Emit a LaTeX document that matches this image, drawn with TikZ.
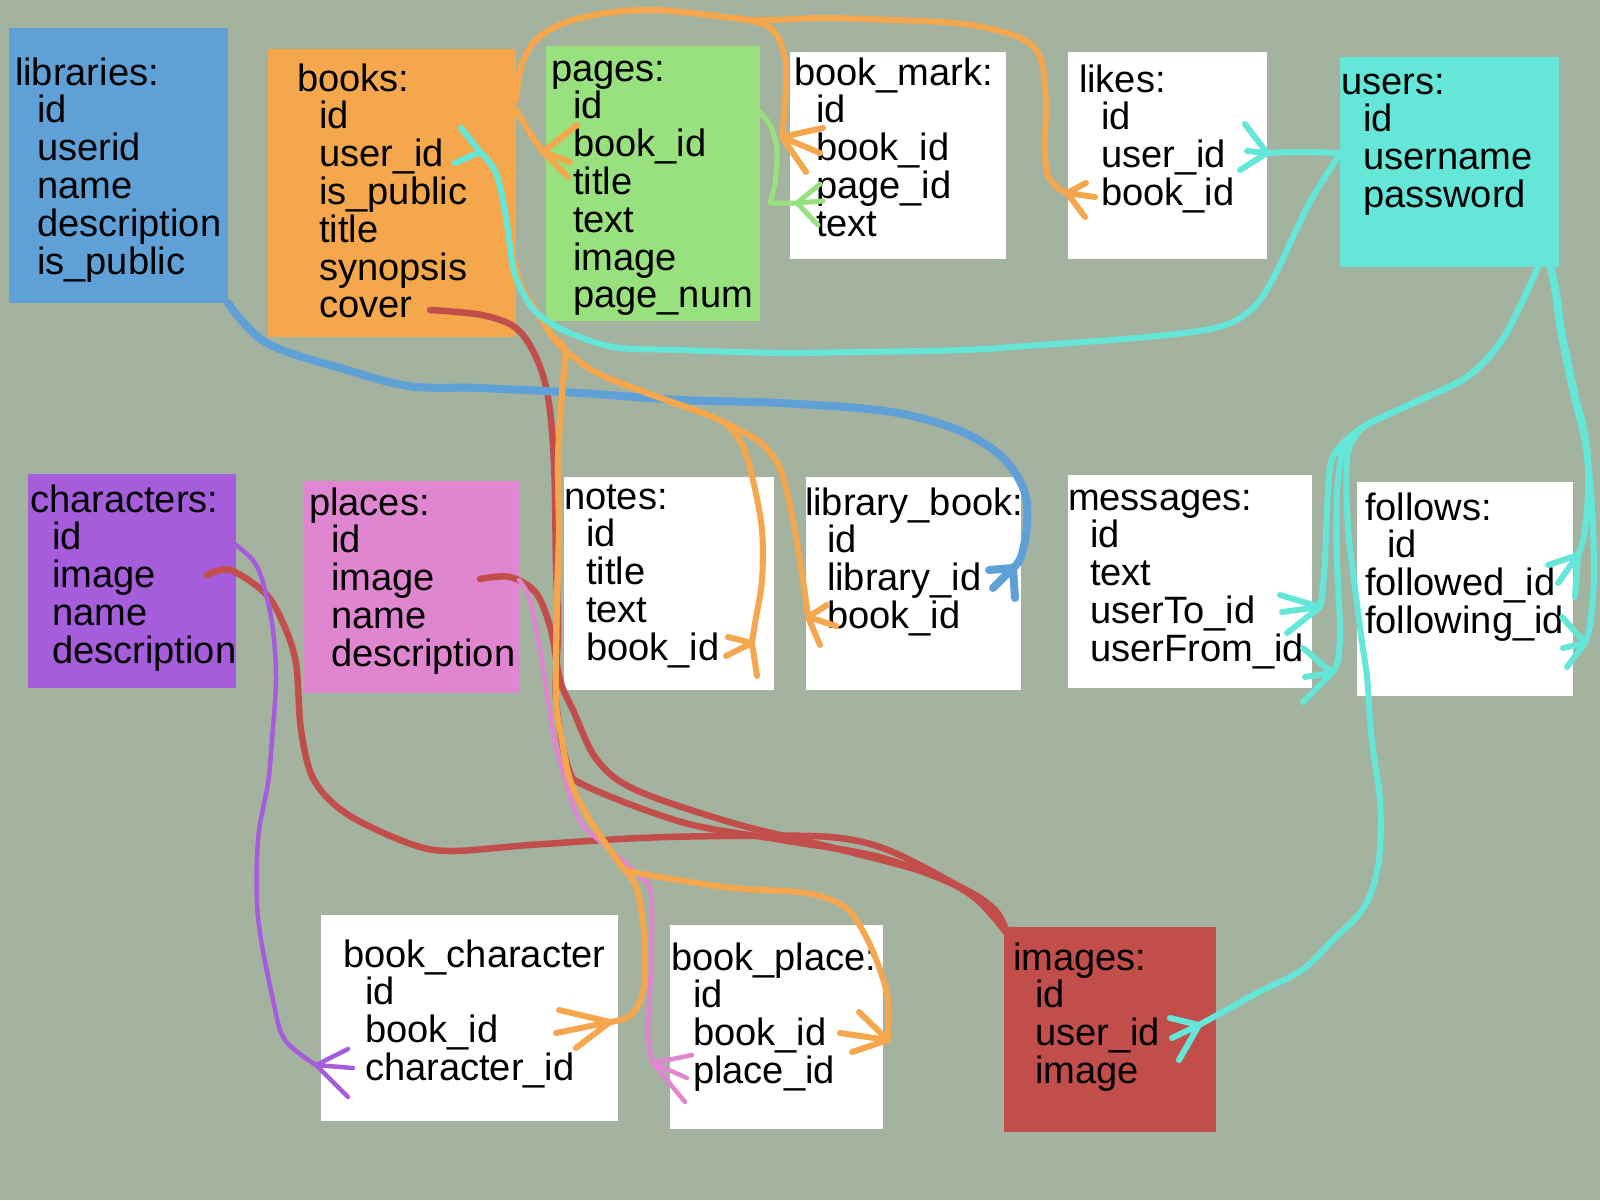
\documentclass[tikz,border=0pt]{standalone}
\usepackage{fontspec}
\setmainfont{Liberation Sans}
\definecolor{bgc}{RGB}{164,179,160}
\definecolor{cblue}{RGB}{95,161,214}
\definecolor{corange}{RGB}{244,167,76}
\definecolor{cgreen}{RGB}{153,224,126}
\definecolor{ccyan}{RGB}{100,231,216}
\definecolor{cpurple}{RGB}{165,93,220}
\definecolor{cpink}{RGB}{224,134,209}
\definecolor{cred}{RGB}{193,78,75}
\newcommand\fld{\hspace*{22pt}}
\newcommand\tst{\rule{0pt}{30pt}}
\tikzset{
  tbl/.style={rectangle, inner sep=0pt, outer sep=0pt, draw=none},
  txt/.style={anchor=north west, inner sep=0pt, outer sep=0pt, align=left,
    font=\fontsize{38.1}{37.8}\selectfont, text=black},
  con/.style={line width=6pt, line cap=round, line join=round},
  sm/.style={smooth, tension=0.55},
}
\begin{document}
\begin{tikzpicture}[x=1pt,y=-1pt]
\fill[bgc] (0,0) rectangle (1600,1200);
\useasboundingbox (0,0) rectangle (1600,1200);

% ---------- boxes ----------
\node[tbl, fill=cblue,   minimum width=219, minimum height=275] (libraries) at (118.5,165.5) {};
\node[tbl, fill=corange, minimum width=248, minimum height=288] (books) at (392,193) {};
\node[tbl, fill=cgreen,  minimum width=214, minimum height=275] (pages) at (653,183.5) {};
\node[tbl, fill=white,   minimum width=216, minimum height=207] (bookmark) at (898,155.5) {};
\node[tbl, fill=white,   minimum width=199, minimum height=207] (likes) at (1167.5,155.5) {};
\node[tbl, fill=ccyan,   minimum width=219, minimum height=210] (users) at (1449.5,162) {};
\node[tbl, fill=cpurple, minimum width=208, minimum height=214] (characters) at (132,581) {};
\node[tbl, fill=cpink,   minimum width=215, minimum height=212] (places) at (411.5,587) {};
\node[tbl, fill=white,   minimum width=210, minimum height=213] (notes) at (669,583.5) {};
\node[tbl, fill=white,   minimum width=215, minimum height=213] (librarybook) at (913.5,583.5) {};
\node[tbl, fill=white,   minimum width=244, minimum height=213] (messages) at (1190,581.5) {};
\node[tbl, fill=white,   minimum width=216, minimum height=214] (follows) at (1465,589) {};
\node[tbl, fill=white,   minimum width=297, minimum height=206] (bookchar) at (469.5,1018) {};
\node[tbl, fill=white,   minimum width=213, minimum height=204] (bookplace) at (776.5,1027) {};
\node[tbl, fill=cred,    minimum width=212, minimum height=205] (images) at (1110,1029.5) {};

% ---------- texts ----------
\node[txt] (tlibraries) at (15,55) {\tst libraries:\\\fld id\\\fld userid\\\fld name\\\fld description\\\fld is\_public};
\node[txt] (tbooks) at (297,61) {\tst books:\\\fld id\\\fld user\_id\\\fld is\_public\\\fld title\\\fld synopsis\\\fld cover};
\node[txt] (tpages) at (551,51) {\tst pages:\\\fld id\\\fld book\_id\\\fld title\\\fld text\\\fld image\\\fld page\_num};
\node[txt] (tbookmark) at (794,55) {\tst book\_mark:\\\fld id\\\fld book\_id\\\fld page\_id\\\fld text};
\node[txt] (tlikes) at (1079,62) {\tst likes:\\\fld id\\\fld user\_id\\\fld book\_id};
\node[txt] (tusers) at (1341,64) {\tst users:\\\fld id\\\fld username\\\fld password};
\node[txt] (tcharacters) at (30,482) {\tst characters:\\\fld id\\\fld image\\\fld name\\\fld description};
\node[txt] (tplaces) at (309,485) {\tst places:\\\fld id\\\fld image\\\fld name\\\fld description};
\node[txt] (tnotes) at (564,479) {\tst notes:\\\fld id\\\fld title\\\fld text\\\fld book\_id};
\node[txt] (tlibrarybook) at (805,485) {\tst library\_book:\\\fld id\\\fld library\_id\\\fld book\_id};
\node[txt] (tmessages) at (1068,480) {\tst messages:\\\fld id\\\fld text\\\fld userTo\_id\\\fld userFrom\_id};
\node[txt] (tfollows) at (1365,490) {\tst follows:\\\fld id\\followed\_id\\following\_id};
\node[txt] (tbookchar) at (343,937) {\tst book\_character\\\fld id\\\fld book\_id\\\fld character\_id};
\node[txt] (tbookplace) at (671,940) {\tst book\_place:\\\fld id\\\fld book\_id\\\fld place\_id};
\node[txt] (timages) at (1013,940) {\tst images:\\\fld id\\\fld user\_id\\\fld image};

% ---------- connector end points ----------
\coordinate (bkE1) at (516,100);
\coordinate (bkE2) at (515,108);
\coordinate (bkE3) at (514,262);
\coordinate (bkCover) at (430,310);
\coordinate (pgE) at (760,112);
\coordinate (usW) at (1340,153);
\coordinate (usS1) at (1538,267);
\coordinate (usS2) at (1550,267);
\coordinate (usS3) at (1552,267);
\coordinate (chE) at (236,545);
\coordinate (chImg) at (207,575);
\coordinate (plE) at (519,580);
\coordinate (plImg) at (480,579);
\coordinate (imNW) at (1008,935);
\coordinate (tPgBook) at (543,152);
\coordinate (tBmBook) at (782,137);
\coordinate (tBmPage) at (797,203);
\coordinate (tLkBook) at (1067,193);
\coordinate (tLkUser) at (1267,153);
\coordinate (tBkUser) at (480,152);
\coordinate (tLbLib) at (1013,568);
\coordinate (tLbBook) at (808,617);
\coordinate (tNtBook) at (752,643);
\coordinate (tMsTo) at (1320,607);
\coordinate (tMsFrom) at (1332,673);
\coordinate (tFwEd) at (1578,555);
\coordinate (tFwIng) at (1585,643);
\coordinate (tBcChar) at (316,1065);
\coordinate (tBcBook) at (610,1022);
\coordinate (tBpBook) at (888,1040);
\coordinate (tBpPlace) at (653,1063);
\coordinate (tImUser) at (1199,1025);

% ---------- red connectors (images) ----------
\begin{scope}[con, draw=cred, line width=6.5pt]
\draw plot[sm] coordinates {(bkCover) (482,315) (516,328) (536,357) (548,397) (554,463) (556,563) (558,630) (556,700) (568,767) (588,787) (685,823) (782,840) (879,857) (960,887) (995,910) (imNW)};
\draw plot[sm] coordinates {(plImg) (510,577) (536,593) (551,630) (560,680) (573,710) (597,760) (636,790) (733,823) (830,847) (927,873) (975,898) (imNW)};
\draw plot[sm] coordinates {(chImg) (230,570) (265,593) (283,623) (296,663) (301,730) (314,780) (347,814) (408,843) (450,851) (530,845) (640,838) (733,836) (830,837) (888,850) (960,887) (990,907) (imNW)};
\end{scope}

% ---------- purple / pink ----------
\draw[con, draw=cpurple, line width=4.5pt] plot[sm] coordinates {(chE) (255,563) (265,590) (273,630) (276,680) (272,740) (268,783) (258,840) (258,917) (273,1000) (285,1040) (tBcChar)}
  (tBcChar) -- (348,1049) (tBcChar) -- (353,1068) (tBcChar) -- (348,1097);
\draw[con, draw=cpink, line width=4.5pt] plot[sm] coordinates {(plE) (530,600) (540,650) (548,700) (556,747) (578,817) (602,843) (636,873) (651,893) (651,967) (648,1033) (tBpPlace)}
  (tBpPlace) -- (692,1055) (tBpPlace) -- (687,1078) (tBpPlace) -- (685,1102);

% ---------- blue ----------
\draw[con, draw=cblue, line width=8pt] plot[sm] coordinates {(libraries.south east) (241,320) (262,340) (290,353) (337,367) (408,386) (480,388) (580,393) (680,400) (780,403) (885,411) (953,428) (1000,455) (1024,490) (1027,525) (1021,557) (tLbLib)}
  (tLbLib) -- (989,570) (tLbLib) -- (993,588) (tLbLib) -- (1015,598);

% ---------- green ----------
\draw[con, draw=cgreen, line width=5pt] plot[sm] coordinates {(pgE) (771,127) (777,150) (775,183) (770,203)} -- (tBmPage)
  (tBmPage) -- (820,184) (tBmPage) -- (823,201) (tBmPage) -- (818,225);

% ---------- orange ----------
\begin{scope}[con, draw=corange]
\draw plot[sm] coordinates {(bkE2) (530,133) (tPgBook)}
  (tPgBook) -- (577,125) (tPgBook) -- (570,162) (tPgBook) -- (568,177);
\draw plot[sm] coordinates {(bkE1) (521,67) (536,40) (564,23) (607,13) (654,10) (700,14) (757,22) (776,34) (785,58) (786,85) (784,117) (tBmBook)}
  (tBmBook) -- (823,128) (tBmBook) -- (820,153) (tBmBook) -- (806,172);
\draw plot[sm] coordinates {(bkE1) (521,67) (536,40) (564,23) (607,13) (654,10) (700,14) (757,20) (821,18) (893,20) (964,24) (1018,37) (1040,57) (1046,100) (1045,140) (1047,173) (1058,188) (tLkBook)}
  (tLkBook) -- (1086,183) (tLkBook) -- (1095,197) (tLkBook) -- (1085,217);
\draw plot[sm] coordinates {(bkE3) (523,290) (540,317) (553,337) (565,350) (597,373) (647,393) (713,417) (730,428) (743,447) (753,480) (762,530) (762,580) (755,623) (tNtBook)}
  (tNtBook) -- (728,637) (tNtBook) -- (726,656) (tNtBook) -- (757,676);
\draw plot[sm] coordinates {(bkE3) (523,290) (540,317) (553,337) (565,350) (597,373) (647,393) (713,417) (735,428) (757,440) (772,455) (783,477) (793,520) (803,580) (tLbBook)}
  (tLbBook) -- (827,605) (tLbBook) -- (836,626) (tLbBook) -- (820,645);
\draw plot[sm] coordinates {(bkE3) (523,290) (540,317) (553,337) (565,350) (562,393) (558,460) (559,530) (557,600) (556,700) (562,740) (570,780) (588,817) (617,860) (636,887) (644,933) (644,987) (631,1015) (tBcBook)}
  (tBcBook) -- (559,1010) (tBcBook) -- (556,1033) (tBcBook) -- (576,1048);
\draw plot[sm] coordinates {(bkE3) (523,290) (540,317) (553,337) (565,350) (562,393) (558,460) (559,530) (557,600) (556,700) (562,740) (570,780) (588,817) (617,860) (627,870) (660,877) (733,888) (806,893) (845,907) (864,933) (879,967) (888,1000) (tBpBook)}
  (tBpBook) -- (859,1012) (tBpBook) -- (840,1033) (tBpBook) -- (852,1052);
\end{scope}

% ---------- cyan ----------
\begin{scope}[con, draw=ccyan]
\draw plot[sm] coordinates {(usW) (1336,160) (1311,200) (1290,243) (1276,273) (1254,307) (1219,327) (1147,337) (1040,345) (964,350) (857,352) (780,353) (680,350) (613,347) (563,330) (537,313) (523,293) (513,267) (506,217) (496,173) (tBkUser)}
  (tBkUser) -- (461,128) (tBkUser) -- (455,163);
\draw plot[sm] coordinates {(usW) (1300,152) (tLkUser)}
  (tLkUser) -- (1245,124) (tLkUser) -- (1247,151) (tLkUser) -- (1240,170);
\draw plot[sm] coordinates {(usS1) (1523,300) (1500,343) (1467,377) (1420,400) (1370,423) (1350,437) (1337,450) (1330,467) (1327,510) (1325,560) (1322,595) (tMsTo)}
  (tMsTo) -- (1280,595) (tMsTo) -- (1282,612) (tMsTo) -- (1287,633);
\draw plot[sm] coordinates {(usS1) (1523,300) (1500,343) (1467,377) (1420,400) (1370,423) (1350,437) (1343,447) (1337,493) (1337,560) (1340,627) (1338,660) (tMsFrom)}
  (tMsFrom) -- (1303,648) (tMsFrom) -- (1305,677) (tMsFrom) -- (1303,702);
\draw plot[sm] coordinates {(usS1) (1523,300) (1500,343) (1467,377) (1420,400) (1370,423) (1355,437) (1347,460) (1348,527) (1360,627) (1367,677) (1370,720) (1373,750) (1380,800) (1380,850) (1373,887) (1360,913) (1333,940) (1302,970) (1257,993) (1221,1013) (tImUser)}
  (tImUser) -- (1170,1018) (tImUser) -- (1172,1038) (tImUser) -- (1179,1060);
\draw plot[sm] coordinates {(usS2) (1556,300) (1560,330) (1573,393) (1583,433) (1588,470) (1587,510) (1583,540) (tFwEd)}
  (tFwEd) -- (1548,565) (tFwEd) -- (1558,583) (tFwEd) -- (1575,597);
\draw plot[sm] coordinates {(usS3) (1558,300) (1562,330) (1575,393) (1585,433) (1590,480) (1593,530) (1594,580) (1590,625) (tFwIng)}
  (tFwIng) -- (1562,617) (tFwIng) -- (1563,648) (tFwIng) -- (1567,667);
\end{scope}
\end{tikzpicture}
\end{document}
